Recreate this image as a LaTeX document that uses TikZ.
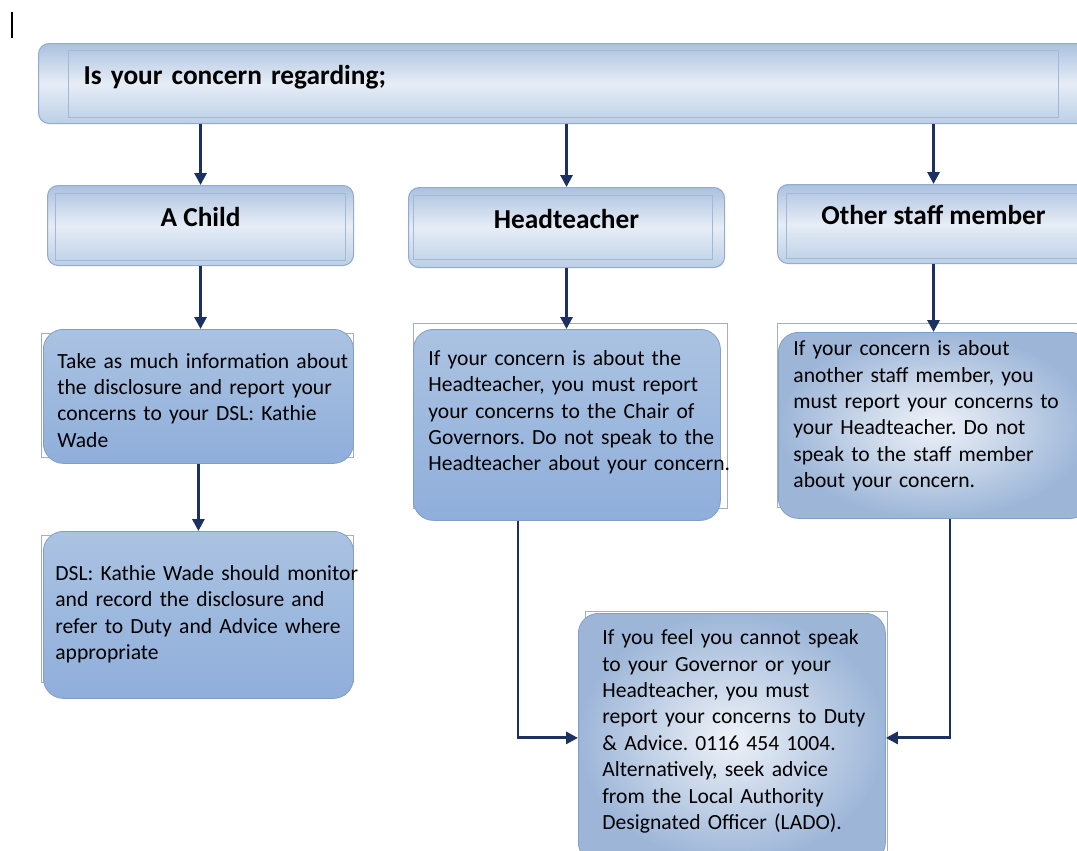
\documentclass[tikz,border=0pt]{standalone}
\usepackage{fontspec}
\setmainfont{Carlito}
\usetikzlibrary{arrows.meta}
\frenchspacing

\definecolor{hdedge}{HTML}{ABC1E0}
\definecolor{hdmid}{HTML}{E6EDF6}
\definecolor{hdlow}{HTML}{BCCFE7}
\definecolor{hdline}{HTML}{93ACCD}
\definecolor{solidtop}{HTML}{ABC3E2}
\definecolor{solidbot}{HTML}{8FAEDA}
\definecolor{solidline}{HTML}{809FC8}
\definecolor{glowin}{HTML}{EEF2F8}
\definecolor{glowout}{HTML}{9DB6D8}
\definecolor{frameline}{HTML}{A6AEBC}
\definecolor{arrowblue}{HTML}{1C3160}

% lines of a text box; the option is extra space under the last line
\newcommand{\boxlines}[2][0pt]{\begin{tabular}{@{}l@{}}#2\\[#1]\end{tabular}}

\tikzset{
  headbox/.style={draw=hdline, line width=0.8pt, rounded corners=8pt,
    top color=hdedge, bottom color=hdlow, middle color=hdmid,
    font=\fontsize{20.5}{24}\selectfont\bfseries,
    text height=0.75em, text depth=0.65em, inner sep=0pt, anchor=north west},
  solidbox/.style={draw=solidline, line width=0.6pt, rounded corners=15pt,
    top color=solidtop, bottom color=solidbot,
    font=\fontsize{16.2}{19.8}\selectfont, align=left, inner ysep=0pt, anchor=north west},
  glowbox/.style={solidbox, inner color=glowin, outer color=glowout},
  framebox/.style={draw=frameline, line width=0.5pt},
  innerframe/.style={draw=hdline!85!white, line width=0.6pt},
  flow/.style={draw=arrowblue, line width=2.2pt, -{Triangle[length=9pt,width=9pt]}},
}

\begin{document}
\begin{tikzpicture}[x=0.75pt,y=-0.75pt]
  \useasboundingbox (0,0) rectangle (1077,850);
  \clip (0,0) rectangle (1077,850);
  % cursor mark
  \draw[line width=0.9pt] (12,12) -- (12,38);
  % question and headings
  \node[headbox, minimum height=60pt, text width=721.5pt, inner xsep=33.75pt, align=left] (ask) at (38,43) {Is your concern regarding;};
  \node[headbox, minimum width=229.5pt, minimum height=60pt] (child) at (47,185) {A Child};
  \node[headbox, minimum width=237pt, minimum height=60pt] (head) at (408,187) {Headteacher};
  \node[headbox, minimum width=234pt, minimum height=59.25pt] (staff) at (777,184) {Other staff member};
  \foreach \xa/\ya/\xb/\yb in {68/50/1058/117, 55/193/345/260, 413/195/712/259, 786/193/1085/258}
    \draw[innerframe] (\xa,\ya) rectangle (\xb,\yb);
  % text frames
  \foreach \xa/\ya/\xb/\yb in {41/333/353/457, 413/323/727/508, 777/323/1085/507, 41/535/353/682, 585/611/887/860}
    \draw[framebox] (\xa,\ya) rectangle (\xb,\yb);
  % text boxes
  \node[solidbox, minimum height=100.5pt, text width=211.5pt, inner xsep=10.5pt] (childinfo) at (43,329)
    {\boxlines[-9pt]{Take as much information about\\the disclosure and report your\\concerns to your DSL: Kathie\\Wade}};
  \node[solidbox, minimum height=125.25pt, text width=214.5pt, inner xsep=9pt] (dslinfo) at (43,531)
    {\boxlines{DSL: Kathie Wade should monitor\\and record the disclosure and\\refer to Duty and Advice where\\appropriate}};
  \node[solidbox, minimum height=143.25pt, text width=207.75pt, inner xsep=11.25pt] (headinfo) at (413,329)
    {\boxlines[18pt]{If your concern is about the\\Headteacher, you must report\\your concerns to the Chair of\\Governors. Do not speak to the\\Headteacher about your concern.}};
  \node[glowbox, minimum height=139.5pt, text width=211.5pt, inner xsep=11.25pt] (staffinfo) at (778,332)
    {\boxlines[13.5pt]{If your concern is about\\another staff member, you\\must report your concerns to\\your Headteacher. Do not\\speak to the staff member\\about your concern.}};
  \node[glowbox, minimum height=186.75pt, text width=194.25pt, inner xsep=18pt] (ladoinfo) at (578,613)
    {\boxlines[9pt]{If you feel you cannot speak\\to your Governor or your\\Headteacher, you must\\report your concerns to Duty\\\& Advice. 0116 454 1004.\\Alternatively, seek advice\\from the Local Authority\\Designated Officer (LADO).}};
  % arrows
  \coordinate (lineL) at (518,0);
  \coordinate (lineR) at (950,0);
  \draw[flow] (ask.south -| child.north) -- (child.north);
  \draw[flow] (ask.south -| head.north) -- (head.north);
  \draw[flow] (ask.south -| staff.north) -- (staff.north);
  \draw[flow] (child.south) -- (child.south |- childinfo.north);
  \draw[flow] (childinfo.south) -- (dslinfo.north);
  \draw[flow] (head.south) -- (head.south |- headinfo.north);
  \draw[flow] (staff.south) -- (staff.south |- staffinfo.north);
  \draw[flow] (headinfo.south -| lineL) |- (ladoinfo.west);
  \draw[flow] (staffinfo.south -| lineR) |- (ladoinfo.east);
\end{tikzpicture}
\end{document}
